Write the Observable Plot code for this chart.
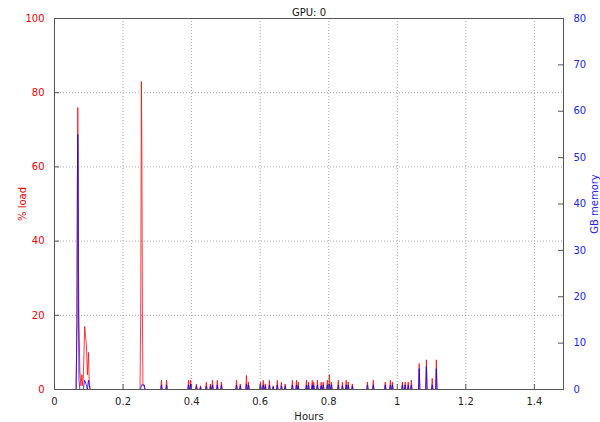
<!DOCTYPE html>
<html><head><meta charset="utf-8">
<script src="https://cdn.jsdelivr.net/npm/d3@7"></script>
<script src="https://cdn.jsdelivr.net/npm/@observablehq/plot@0.6"></script>
<style>body{margin:0;background:#fff}</style>
</head><body><div id="chart"></div>
<script>
// Continuous trace segments (hours, % load, GB memory)
const traceHours = [0.063, 0.0655, 0.0668, 0.0680, 0.0690, 0.0700, 0.0715, 0.074, 0.077, 0.080, 0.082, 0.084, 0.088, 0.093, 0.096, 0.099, 0.101, 0.104, 0.106,
                    0.2495, 0.2515, 0.2535, 0.2550, 0.2565, 0.258, 0.262, 0.264];
const traceLoad  = [0, 18, 55, 76, 60, 33, 18, 5, 1, 4, 1, 3, 17, 12, 4, 10, 3, 0, 0,
                    0, 21, 83, 62, 21, 1, 1, 0];
const traceMem   = [0, 15, 45, 55, 50, 16, 2, 0, 0, 0, 0, 0, 2, 1, 0, 2, 1, 0, 0,
                    0, 0, 1, 1, 1, 1, 1, 0];
// Short isolated bursts (peak hour, % load, GB memory)
const burstHours = [0.312, 0.327, 0.391, 0.397, 0.414, 0.426, 0.443, 0.455, 0.461, 0.475, 0.487,
                    0.531, 0.542, 0.560, 0.566, 0.601, 0.609, 0.615, 0.627, 0.638, 0.650, 0.662, 0.673,
                    0.694, 0.706, 0.711, 0.735, 0.741, 0.752, 0.756, 0.767, 0.778, 0.784, 0.796, 0.802, 0.808,
                    0.828, 0.840, 0.851, 0.857, 0.869, 0.913, 0.930, 0.965, 0.980, 0.986,
                    1.015, 1.023, 1.032, 1.041, 1.064, 1.085, 1.102, 1.114];
const burstLoad  = [2.5, 2.5, 2.5, 2.5, 1.5, 1, 2, 1.5, 2.5, 2.5, 2,
                    2.5, 1.5, 3.8, 2, 2, 2.5, 1.5, 2.5, 1, 2.5, 2, 1.5,
                    2.5, 2.5, 2, 2.5, 2, 2.5, 2, 2.5, 2, 2, 2.5, 4, 2,
                    2.5, 2, 2.5, 2, 1.5, 2, 2.5, 2, 2.5, 2,
                    2, 2, 2, 2.5, 7, 8, 3, 8];
const burstMem   = [1, 1, 1, 1.2, 0.8, 0.6, 0.8, 0.8, 1, 1, 1,
                    1, 0.8, 1.2, 1, 1, 1, 0.8, 1, 0.6, 1, 0.8, 0.8,
                    1, 1, 0.8, 1, 1, 1, 1, 1, 0.8, 1, 1, 1.2, 1,
                    1, 0.8, 1, 1, 0.8, 1, 1, 1, 1, 1,
                    1, 1, 1, 1, 4.5, 5, 1, 4.5];
const xTicks = [0, 0.2, 0.4, 0.6, 0.8, 1, 1.2, 1.4];
const loadTicks = [0, 20, 40, 60, 80, 100];
const memTicks = [0, 10, 20, 30, 40, 50, 60, 70, 80];
const memMax = 80;

const rows = traceHours.map((t, i) => ({t, load: traceLoad[i], mem: traceMem[i]}));
const hw = 0.002; // half-width of a burst on the idle baseline
burstHours.forEach((t, i) => {
  rows.push({t: t - hw, load: 0, mem: 0});
  rows.push({t, load: burstLoad[i], mem: burstMem[i]});
  rows.push({t: t + hw, load: 0, mem: 0});
});

const W = 600, H = 422, mL = 54, mR = 37, mT = 18, mB = 33;
const pw = W - mL - mR, ph = H - mT - mB;
const grid = {stroke: "#a8a8a8", strokeOpacity: 1, strokeDasharray: "1,2", strokeWidth: 1};

const chart = Plot.plot({
  width: W, height: H,
  marginTop: mT, marginBottom: mB, marginLeft: mL, marginRight: mR,
  style: {fontFamily: "DejaVu Sans", fontSize: "10px", background: "#fff", overflow: "visible"},
  x: {domain: [0, 1.485]},
  y: {domain: [0, 100]},
  marks: [
    Plot.gridX(xTicks.filter(d => d > 0), grid),
    Plot.gridY([20, 40, 60, 80], grid),
    Plot.line(rows, {x: "t", y: "load", stroke: "#ff0000", strokeWidth: 0.9, strokeOpacity: 0.85}),
    Plot.line(rows, {x: "t", y: d => d.mem / memMax * 100, stroke: "#0000ff", strokeWidth: 0.9, strokeOpacity: 0.85}),
    Plot.frame({stroke: "#555"}),
    Plot.tickY(loadTicks, {y: d => d, insetRight: pw - 5, stroke: "#555"}),
    Plot.tickY(memTicks, {y: d => d / memMax * 100, insetLeft: pw - 5, stroke: "#555"}),
    Plot.tickX(xTicks, {x: d => d, insetTop: ph - 5, stroke: "#555"}),
    Plot.axisX({ticks: xTicks, tickSize: 0, tickPadding: 8, tickFormat: d => String(d), fill: "#222",
      label: "Hours", labelAnchor: "center", labelArrow: "none", labelOffset: 30}),
    Plot.axisY({anchor: "left", ticks: loadTicks, tickSize: 0, tickPadding: 10, fill: "#ee0000",
      label: "% load", labelAnchor: "center", labelArrow: "none", labelOffset: 36}),
    Plot.axisY({anchor: "right", ticks: memTicks.map(v => v / memMax * 100), tickSize: 0, tickPadding: 10,
      tickFormat: d => String(Math.round(d * memMax / 100)), fill: "#2222ee",
      label: "GB memory", labelAnchor: "center", labelArrow: "none", labelOffset: 34}),
    Plot.text(["GPU: 0"], {frameAnchor: "top", dy: -10, fill: "#111", fontSize: 10})
  ]
});
document.getElementById("chart").appendChild(chart);
</script>
</body></html>
